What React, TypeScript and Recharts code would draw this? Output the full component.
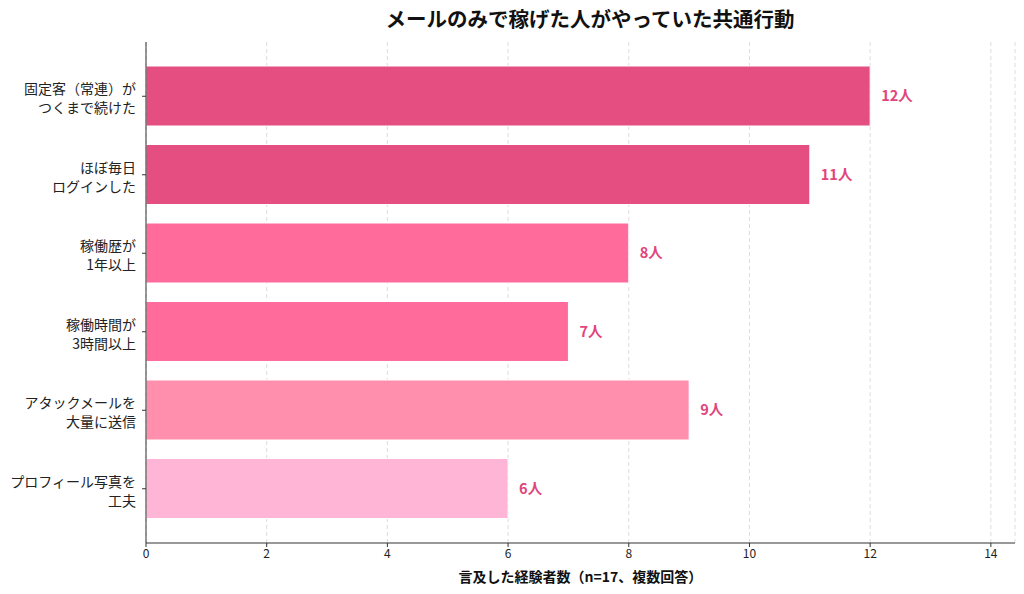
import { BarChart, Bar, XAxis, YAxis, CartesianGrid, Cell, LabelList } from 'recharts'

const categories = [
  '固定客（常連）が\nつくまで続けた',
  'ほぼ毎日\nログインした',
  '稼働歴が\n1年以上',
  '稼働時間が\n3時間以上',
  'アタックメールを\n大量に送信',
  'プロフィール写真を\n工夫',
]
const counts = [12, 11, 8, 7, 9, 6]
const barColors = ['#E54E81', '#E54E81', '#FF6C9B', '#FF6C9B', '#FF8FAC', '#FFB5D6']
const xTicks = [0, 2, 4, 6, 8, 10, 12, 14]

const data = categories.map((name, i) => ({ name, count: counts[i] }))

const font = '"Noto Sans CJK JP", "Noto Sans", sans-serif'

function CategoryTick({ x, y, payload }: any) {
  const lines = String(payload.value).split('\n')
  return (
    <text x={x - 4} y={y} textAnchor="end" fontSize={14} fill="#222" fontFamily={font}>
      {lines.map((l, i) => (
        <tspan key={i} x={x - 4} dy={i === 0 ? -2 : 19}>{l}</tspan>
      ))}
    </text>
  )
}

function ValueLabel({ x, y, width, height, value }: any) {
  return (
    <text
      x={x + width + 11} y={y + height / 2 + 5}
      fontSize={14.5} fontWeight="bold" fill="#E0457B" fontFamily={font}
    >
      {value}人
    </text>
  )
}

export default function App() {
  return (
    <div style={{ position: 'absolute', left: 0, top: 0, width: 1024, height: 594, background: '#fff', fontFamily: font }}>
      <div style={{
        position: 'absolute', top: 3, left: 340, width: 500, textAlign: 'center',
        fontSize: 20.5, fontWeight: 'bold', color: '#111',
      }}>
        メールのみで稼げた人がやっていた共通行動
      </div>
      <BarChart
        width={1024} height={594} data={data} layout="vertical"
        margin={{ top: 42, right: 9, bottom: 0, left: 0 }}
      >
        <XAxis
          type="number" domain={[0, 14.4]} ticks={xTicks} allowDataOverflow
          height={51} tickSize={4} stroke="#333"
          tick={{ fontSize: 12, fill: '#222', fontFamily: font }}
          label={{ value: '言及した経験者数（n=17、複数回答）', position: 'insideBottom', offset: 12,
            fontSize: 14, fontWeight: 'bold', fill: '#111', fontFamily: font }}
        />
        <YAxis
          type="category" dataKey="name" width={146} tickSize={4} stroke="#333"
          padding={{ top: 15, bottom: 15 }} tick={<CategoryTick />} interval={0}
        />
        <Bar dataKey="count" barSize={60} stroke="#fff" strokeWidth={1} isAnimationActive={false}>
          {data.map((d, i) => <Cell key={d.name} fill={barColors[i]} />)}
          <LabelList dataKey="count" content={<ValueLabel />} />
        </Bar>
        <CartesianGrid horizontal={false} strokeDasharray="4 3" stroke="#bbb" strokeOpacity={0.5} />
      </BarChart>
    </div>
  )
}
